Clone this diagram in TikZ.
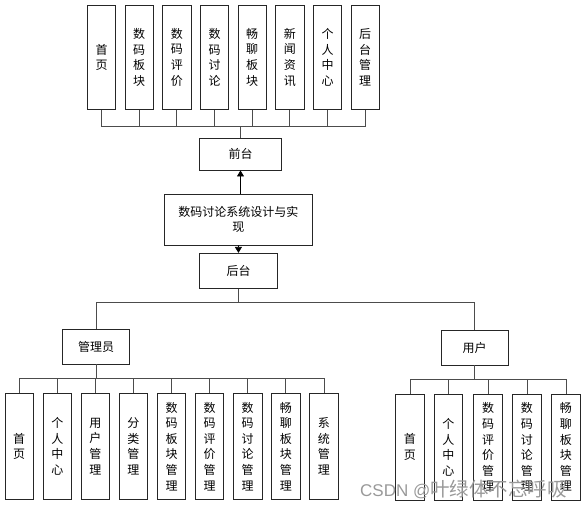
\documentclass[tikz,border=0pt]{standalone}
\usepackage{fontspec}
\setmainfont{Noto Sans CJK SC}
\newfontfamily\wmfont{Liberation Sans}
\usetikzlibrary{arrows.meta}
\begin{document}
\begin{tikzpicture}[x=1pt,y=-1pt,
  box/.style={draw=black!85, line width=0.8pt, inner sep=0pt, align=center,
    font=\fontsize{12}{15.6}\selectfont},
  vbox/.style={box, minimum width=28.4pt, minimum height=105pt},
  conn/.style={draw=black!70, line width=0.8pt},
  arr/.style={draw=black, line width=0.8pt, -{Triangle[length=6pt,width=7pt]}}]
\useasboundingbox (0,0) rectangle (587,509);
% top level
\foreach \t [count=\i] in {首\\页, 数\\码\\板\\块, 数\\码\\评\\价, 数\\码\\讨\\论, 畅\\聊\\板\\块, 新\\闻\\资\\讯, 个\\人\\中\\心, 后\\台\\管\\理}{
  \node[vbox, minimum height=104.5pt] (t\i) at ({101.5+37.67*(\i-1)},57.25) {\t};
}
\node[box, minimum width=82.4pt, minimum height=31.7pt] (qt) at (240.5,154.2) {前台};
\coordinate (busT) at (240.5,126.7);
\foreach \i in {1,...,8}{
  \draw[conn] (t\i.south) |- (busT);
}
\draw[conn] (qt.north) -- (busT);
\node[box, minimum width=148.7pt, minimum height=51pt] (main) at (238.4,219.5) {数码讨论系统设计与实\\现};
\node[box, minimum width=78.4pt, minimum height=35pt] (ht) at (238.5,270.8) {后台};
\draw[arr] (main.north -| qt.south) -- (qt.south);
\draw[arr] (main.south) -- (ht.north);
% admin / user
\node[box, minimum width=66.6pt, minimum height=34.7pt] (adm) at (96,346.7) {管理员};
\node[box, minimum width=67.3pt, minimum height=35pt] (usr) at (474.7,347.5) {用户};
\coordinate (busM) at (238.5,302.7);
\draw[conn] (ht.south) -- (busM);
\draw[conn] (adm.north) |- (busM);
\draw[conn] (usr.north) |- (busM);
% admin children
\coordinate (busA) at (96,378.3);
\foreach \t [count=\i] in {首\\页, 个\\人\\中\\心, 用\\户\\管\\理, 分\\类\\管\\理, 数\\码\\板\\块\\管\\理, 数\\码\\评\\价\\管\\理, 数\\码\\讨\\论\\管\\理, 畅\\聊\\板\\块\\管\\理, 系\\统\\管\\理}{
  \node[vbox, minimum height=106pt] (a\i) at ({19.2+38.09*(\i-1)},446.3) {\t};
  \draw[conn] (a\i.north) |- (busA);
}
\draw[conn] (adm.south) -- (busA);
% user children
\coordinate (busU) at (474.7,379.3);
\foreach \t/\x [count=\i] in {首\\页/409.9, 个\\人\\中\\心/448.3, 数\\码\\评\\价\\管\\理/488, 数\\码\\讨\\论\\管\\理/526.9, 畅\\聊\\板\\块\\管\\理/565.9}{
  \node[vbox, minimum height=105.7pt] (u\i) at (\x,447.2) {\t};
  \draw[conn] (u\i.north) |- (busU);
}
\draw[conn] (usr.south) -- (busU);
% watermark
\node[anchor=west, inner sep=0pt, text=black!40, font=\fontsize{17}{17}\selectfont] (wm) at (360,489) {{\wmfont CSDN @}{\fontsize{19.5}{19.5}\selectfont 叶绿体不忘呼吸}};
\end{tikzpicture}
\end{document}
